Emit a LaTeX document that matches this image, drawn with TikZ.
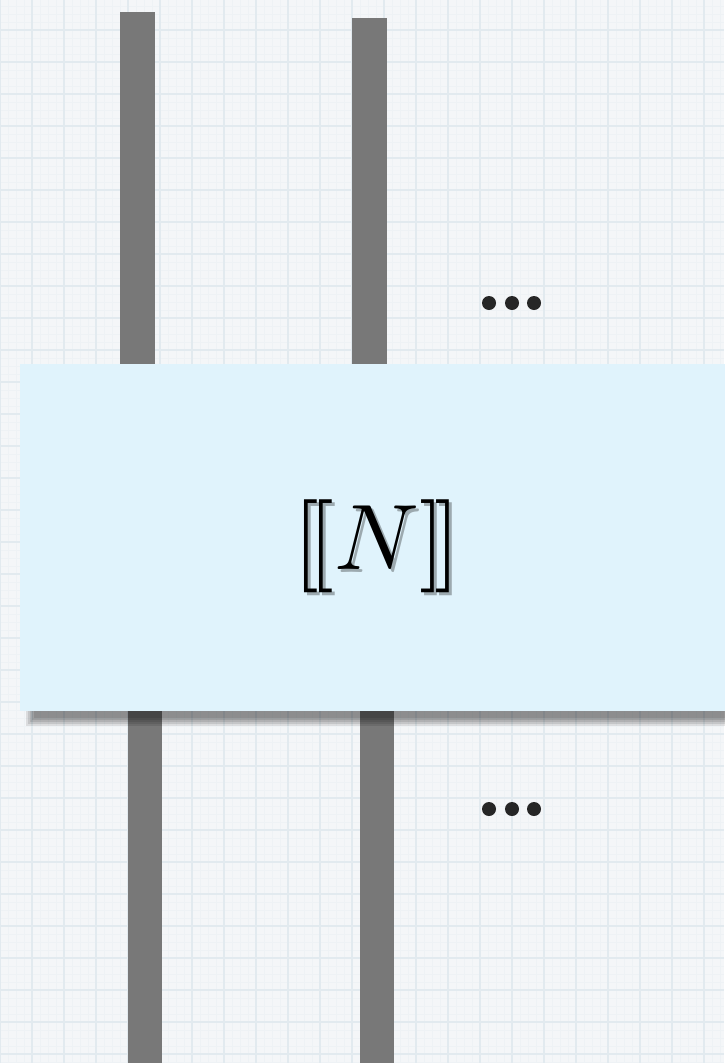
\documentclass[tikz,border=0pt]{standalone}
\definecolor{bgc}{RGB}{244,246,248}
\definecolor{gridmaj}{RGB}{226,234,239}
\definecolor{gridmin}{RGB}{238,242,245}
\definecolor{wirec}{RGB}{120,120,120}
\definecolor{boxc}{RGB}{224,243,252}
\newcommand{\semL}{\mathbf{[}\mkern-2mu\mathbf{[}}
\newcommand{\semR}{\mathbf{]}\mkern-2mu\mathbf{]}}
\tikzset{
  wire/.style={fill=wirec, draw=none},
  procbox/.style={fill=boxc, draw=none},
  dot/.style={circle, fill=black!85, inner sep=0pt, minimum size=14pt},
  biglabel/.style={scale=9.3, transform shape, inner sep=0pt},
}
\begin{document}
\begin{tikzpicture}[x=1pt,y=-1pt]
\useasboundingbox (0,0) rectangle (724,1063);
% background
\fill[bgc] (0,0) rectangle (724,1063);
\foreach \i in {0,8,...,1064} {\draw[gridmin, line width=0.5pt] (\i,0) -- (\i,1063);}
\foreach \i in {0,8,...,1064} {\draw[gridmin, line width=0.5pt] (0,\i-2) -- (724,\i-2);}
\foreach \i in {0,32,...,1064} {\draw[gridmaj, line width=1.2pt] (\i,0) -- (\i,1063);}
\foreach \i in {0,32,...,1064} {\draw[gridmaj, line width=1.2pt] (0,\i-2) -- (724,\i-2);}
% wires top
\fill[wire] (120,12) rectangle (155,366);
\fill[wire] (352,18) rectangle (387,372);
% wires bottom
\fill[wire] (128,705) rectangle (162,1063);
\fill[wire] (360,705) rectangle (394,1063);
% box shadow (soft)
\foreach \d in {0,2,4,6,8} {
  \fill[black, opacity=0.1] (30-\d+4,373-\d) rectangle (740,722+\d-4);
}
% box
\node[procbox, minimum width=720pt, minimum height=347pt, inner sep=0pt, anchor=north west] (box) at (20,364) {};
% label with soft shadow
\node[biglabel, text=black, opacity=0.3] (labelshadow) at (380,549) {$\semL N\semR$};
\node[biglabel] (label) at (377,546) {$\semL N\semR$};
% dots
\node[dot] (d1) at (489,303) {};
\node[dot] (d2) at (512,303) {};
\node[dot] (d3) at (534,303) {};
\node[dot] (e1) at (489,809) {};
\node[dot] (e2) at (512,809) {};
\node[dot] (e3) at (534,809) {};
\end{tikzpicture}
\end{document}
